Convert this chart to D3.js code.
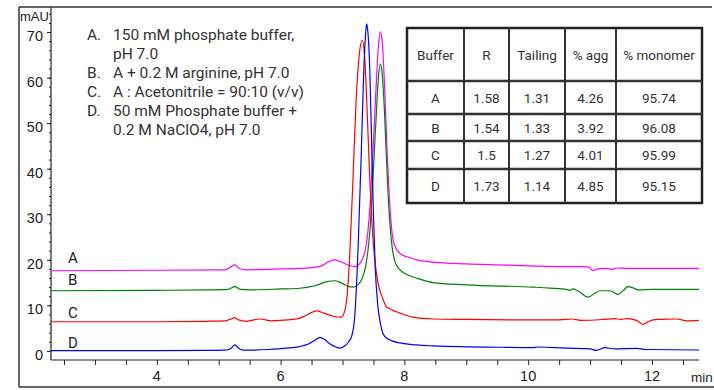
<!DOCTYPE html>
<html>
<head>
<meta charset="utf-8">
<script src="https://cdn.jsdelivr.net/npm/d3@7"></script>
<style>
  body { margin: 0; background: #fff; }
  svg { display: block; }
</style>
</head>
<body>
<div id="chart"></div>
<script>
// Chromatogram traces, [minutes, mAU] (offsets included)
const traceA = [[2.29,17.6],[4.0,17.7],[5.1,17.8],[5.2,18.5],[5.26,18.9],[5.33,18.1],[5.45,17.8],[6.0,18.0],[6.31,18.1],[6.63,18.5],[6.78,19.6],[6.88,20.0],[7.0,19.4],[7.1,18.8],[7.2,18.5],[7.3,19.6],[7.38,23],[7.44,31],[7.5,46],[7.55,60],[7.58,67],[7.61,70.1],[7.64,68],[7.68,58],[7.72,44],[7.76,33],[7.8,26],[7.84,23.2],[7.93,21.4],[8.05,20.6],[8.2,20.0],[8.46,19.5],[9.0,19.1],[9.54,18.9],[10.62,18.5],[10.9,18.5],[10.98,18.4],[11.05,17.6],[11.12,18.0],[11.25,18.1],[11.35,17.9],[11.45,18.2],[11.6,18.1],[12.76,18.1]];
const traceB = [[2.29,13.2],[4.0,13.3],[4.9,13.4],[5.15,13.5],[5.26,14.1],[5.35,13.5],[5.5,13.4],[6.0,13.6],[6.31,13.75],[6.55,14.3],[6.75,15.2],[6.88,15.4],[7.0,14.8],[7.1,14.1],[7.17,14.0],[7.25,14.5],[7.32,16],[7.38,19],[7.44,26],[7.5,40],[7.55,53],[7.58,60],[7.61,63],[7.64,61],[7.68,52],[7.72,39],[7.76,29],[7.8,23],[7.85,19.5],[7.93,17.8],[8.05,16.7],[8.2,15.95],[8.46,15.0],[9.0,14.5],[10.08,14.0],[10.35,13.8],[10.62,13.5],[10.67,13.3],[10.72,13.6],[10.8,13.2],[10.97,11.8],[11.08,12.7],[11.16,13.2],[11.32,13.2],[11.45,12.4],[11.54,13.3],[11.61,14.1],[11.7,13.8],[11.78,13.4],[12.0,13.5],[12.76,13.5]];
const traceC = [[2.29,6.4],[4.0,6.4],[4.8,6.5],[5.1,6.6],[5.2,7.0],[5.25,7.3],[5.32,6.8],[5.45,6.5],[5.66,7.0],[5.85,6.6],[6.0,6.7],[6.31,7.2],[6.45,8.1],[6.58,8.8],[6.7,8.3],[6.85,7.6],[6.98,7.4],[7.04,9],[7.08,13],[7.12,22],[7.17,38],[7.22,55],[7.27,65],[7.32,68.2],[7.36,64],[7.4,52],[7.44,38],[7.48,27],[7.53,19],[7.58,14.5],[7.65,11.5],[7.71,9.7],[7.8,9.0],[7.93,8.3],[8.14,7.4],[8.46,7.0],[9.0,6.9],[10.07,6.8],[10.5,6.8],[10.7,7.0],[10.85,6.7],[11.2,6.9],[11.4,7.1],[11.5,6.9],[11.6,7.1],[11.75,6.7],[11.86,5.85],[11.95,6.5],[12.1,6.9],[12.4,7.0],[12.56,6.6],[12.76,6.7]];
const traceD = [[2.29,0.05],[4.0,0.05],[4.8,0.1],[5.1,0.15],[5.2,0.6],[5.26,1.3],[5.32,0.6],[5.4,0.15],[5.8,0.3],[6.1,0.6],[6.3,0.95],[6.45,1.5],[6.55,2.3],[6.63,2.9],[6.7,2.6],[6.8,1.5],[6.9,0.8],[6.96,0.6],[7.03,1.0],[7.1,2.0],[7.15,3.3],[7.2,8],[7.25,22],[7.3,42],[7.34,60],[7.37,69],[7.39,71.8],[7.41,70],[7.44,62],[7.47,46],[7.5,30],[7.53,18],[7.57,10],[7.62,5.5],[7.68,3.2],[7.8,2.2],[7.93,1.75],[8.2,1.3],[8.46,1.1],[9.0,0.9],[9.54,0.8],[10.07,0.72],[10.15,0.85],[10.6,0.6],[11.0,0.45],[11.1,0.1],[11.24,0.7],[11.4,0.45],[11.75,0.55],[11.9,0.3],[12.76,0.2]];

const seriesNames = ["A", "B", "C", "D"];
const seriesColors = ["#ff00ff", "#008000", "#ff0000", "#0000ff"];
const seriesLabelValues = [19.3, 14.5, 7.2, 0.7]; // baseline of each letter, in mAU

const xTicks = [4, 6, 8, 10, 12];
const yTicks = [0, 10, 20, 30, 40, 50, 60, 70];

const legendKeys = ["A.", "B.", "C.", "D."];
const legendLines = [
    ["150 mM phosphate buffer,", "pH 7.0"],
    ["A + 0.2 M arginine, pH 7.0"],
    ["A : Acetonitrile = 90:10 (v/v)"],
    ["50 mM Phosphate buffer +", "0.2 M NaClO4, pH 7.0"]
];

const tableHeader = ["Buffer", "R", "Tailing", "% agg", "% monomer"];
const tableRows = [
    ["A", "1.58", "1.31", "4.26", "95.74"],
    ["B", "1.54", "1.33", "3.92", "96.08"],
    ["C", "1.5", "1.27", "4.01", "95.99"],
    ["D", "1.73", "1.14", "4.85", "95.15"]
];

const W = 714, H = 390;
const ARIAL = "'Liberation Sans', Arial, sans-serif";
const ROBOTO = "Roboto, 'Noto Sans', sans-serif";

const svg = d3.select("#chart").append("svg")
    .attr("width", W)
    .attr("height", H);

const x = d3.scaleLinear().domain([2.29, 12.76]).range([51, 699]);
const y = d3.scaleLinear().domain([-2, 75.5]).range([360, 7]);

// outer frame (top, left, bottom)
const frame = svg.append("g").attr("stroke", "#333").attr("stroke-width", 1.5);
frame.append("line").attr("x1", 19).attr("x2", 712).attr("y1", 7).attr("y2", 7);
frame.append("line").attr("x1", 19).attr("x2", 19).attr("y1", 7).attr("y2", 387);
frame.append("line").attr("x1", 19).attr("x2", W).attr("y1", 387).attr("y2", 387);

// axes
const xAxisG = svg.append("g")
    .attr("transform", `translate(0,${y.range()[0]})`)
    .call(d3.axisBottom(x).tickValues(d3.range(2.5, 12.76, 0.5)).tickSize(5).tickFormat(""));
xAxisG.select(".domain").remove();
xAxisG.selectAll("line").attr("stroke", "#222");

svg.append("g")
    .selectAll("text")
    .data(xTicks)
    .join("text")
    .attr("x", d => x(d))
    .attr("y", 381)
    .attr("text-anchor", "middle")
    .attr("font-family", ARIAL)
    .attr("font-size", "14.5px")
    .attr("fill", "#222")
    .text(d => d);

svg.append("text")
    .attr("x", 691).attr("y", 382)
    .attr("font-family", ARIAL).attr("font-size", "13.5px").attr("fill", "#222")
    .text("min");

const yAxisG = svg.append("g")
    .attr("transform", `translate(${x.range()[0]},0)`)
    .call(d3.axisLeft(y).tickValues(d3.range(0, 75, 2)).tickSize(2).tickFormat(""));
yAxisG.select(".domain").remove();
yAxisG.selectAll("line").attr("stroke", "#222");

svg.append("g")
    .attr("transform", `translate(${x.range()[0]},0)`)
    .call(d3.axisLeft(y).tickValues(yTicks).tickSize(4).tickFormat(""))
    .call(g => g.select(".domain").remove())
    .selectAll("line").attr("stroke", "#222");

svg.append("g")
    .selectAll("text")
    .data(yTicks)
    .join("text")
    .attr("x", 43)
    .attr("y", d => y(d) + 9)
    .attr("text-anchor", "end")
    .attr("font-family", ARIAL)
    .attr("font-size", "14.5px")
    .attr("fill", "#222")
    .text(d => d);

svg.append("text")
    .attr("x", 20).attr("y", 21)
    .attr("font-family", ARIAL).attr("font-size", "13px").attr("fill", "#222")
    .text("mAU");

svg.append("line")
    .attr("x1", x.range()[0]).attr("x2", x.range()[1])
    .attr("y1", y.range()[0]).attr("y2", y.range()[0])
    .attr("stroke", "#222").attr("stroke-width", 1.2);
svg.append("line")
    .attr("x1", x.range()[0]).attr("x2", x.range()[0])
    .attr("y1", 7).attr("y2", y.range()[0])
    .attr("stroke", "#222").attr("stroke-width", 1.2);

// traces
const line = d3.line()
    .x(d => x(d[0]))
    .y(d => y(d[1]))
    .curve(d3.curveMonotoneX);

[traceA, traceB, traceC, traceD].forEach((trace, i) => {
    svg.append("path")
        .datum(trace)
        .attr("d", line)
        .attr("fill", "none")
        .attr("stroke", seriesColors[i])
        .attr("stroke-width", 1.2);
});

// series letters
svg.append("g")
    .selectAll("text")
    .data(seriesNames)
    .join("text")
    .attr("x", 68)
    .attr("y", (d, i) => y(seriesLabelValues[i]))
    .attr("font-family", ROBOTO)
    .attr("font-size", "15px")
    .attr("fill", "#222")
    .text(d => d);

// buffer legend
const legend = svg.append("g").attr("font-family", ROBOTO).attr("font-size", "15.5px").attr("fill", "#333");
let row = 0;
legendKeys.forEach((key, i) => {
    legend.append("text").attr("x", 87).attr("y", 40 + row * 18.9).text(key);
    legendLines[i].forEach(txt => {
        legend.append("text").attr("x", 113).attr("y", 40 + row * 18.9).text(txt);
        row++;
    });
});

// results table
const colEdges = [407, 464, 509, 565, 616, 702];
const rowEdges = [28, 81, 114, 141, 169, 203];
const table = svg.append("g");

table.append("rect")
    .attr("x", colEdges[0]).attr("y", rowEdges[0])
    .attr("width", colEdges[5] - colEdges[0])
    .attr("height", rowEdges[5] - rowEdges[0])
    .attr("fill", "#fff")
    .attr("stroke", "#222").attr("stroke-width", 2.5);

colEdges.slice(1, -1).forEach(cx => {
    table.append("line")
        .attr("x1", cx).attr("x2", cx)
        .attr("y1", rowEdges[0]).attr("y2", rowEdges[5])
        .attr("stroke", "#333").attr("stroke-width", 2);
});
rowEdges.slice(1, -1).forEach(ry => {
    table.append("line")
        .attr("x1", colEdges[0]).attr("x2", colEdges[5])
        .attr("y1", ry).attr("y2", ry)
        .attr("stroke", "#333").attr("stroke-width", 2.5);
});

[tableHeader, ...tableRows].forEach((cells, r) => {
    cells.forEach((cell, c) => {
        table.append("text")
            .attr("x", (colEdges[c] + colEdges[c + 1]) / 2)
            .attr("y", (rowEdges[r] + rowEdges[r + 1]) / 2 + 5)
            .attr("text-anchor", "middle")
            .attr("font-family", ROBOTO)
            .attr("font-size", "13.5px")
            .attr("fill", "#333")
            .text(cell);
    });
});
</script>
</body>
</html>
